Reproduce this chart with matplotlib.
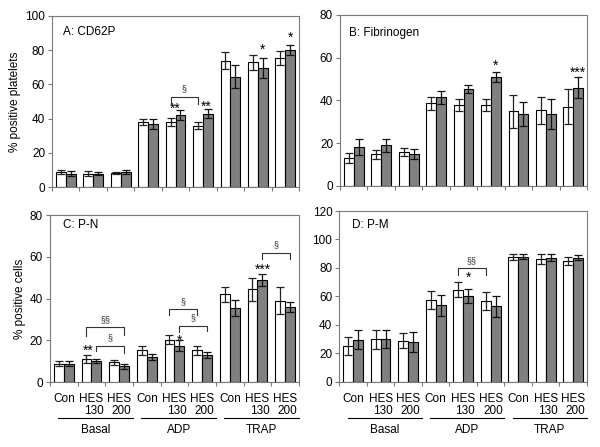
import matplotlib
matplotlib.use("Agg")
import matplotlib.pyplot as plt
import numpy as np

plt.rcParams['font.family'] = ['Liberation Sans', 'DejaVu Sans']

# ---------------- data ----------------
treatments = ["Con", "HES\n130", "HES\n200"] * 3
conditions = ["Basal", "ADP", "TRAP"]

A_white = [8.8, 7.8, 8.3, 38.2, 38.0, 35.8, 73.8, 72.8, 75.5]
A_white_err = [1.0, 1.5, 0.7, 1.8, 2.5, 2.0, 4.8, 4.2, 4.2]
A_gray = [7.8, 8.0, 8.8, 36.8, 42.3, 43.0, 64.5, 69.6, 79.8]
A_gray_err = [1.5, 1.0, 1.0, 3.0, 2.8, 2.5, 6.8, 5.8, 2.9]

B_white = [12.8, 14.8, 15.8, 38.6, 37.7, 37.7, 34.8, 35.3, 37.0]
B_white_err = [2.4, 2.1, 2.0, 3.1, 2.8, 2.8, 7.7, 6.4, 8.1]
B_gray = [18.3, 19.0, 15.0, 41.4, 45.3, 50.9, 33.6, 33.6, 46.0]
B_gray_err = [3.7, 3.1, 2.4, 3.0, 2.0, 2.3, 5.7, 6.9, 5.0]

C_white = [8.9, 11.0, 9.5, 15.3, 20.3, 15.3, 42.0, 44.5, 39.0]
C_white_err = [1.1, 2.0, 1.2, 2.3, 2.2, 2.3, 3.5, 5.5, 6.5]
C_gray = [8.9, 10.2, 7.6, 12.0, 17.6, 13.2, 35.5, 49.0, 36.0]
C_gray_err = [1.1, 1.0, 1.1, 1.4, 2.7, 1.4, 3.8, 2.8, 2.2]

D_white = [25.3, 29.8, 28.8, 57.5, 64.8, 56.8, 87.5, 86.5, 85.0]
D_white_err = [6.5, 6.5, 5.2, 6.5, 5.2, 6.5, 2.0, 3.5, 3.0]
D_gray = [29.6, 30.2, 28.0, 53.6, 60.0, 53.0, 88.0, 87.3, 87.3]
D_gray_err = [6.6, 6.3, 7.2, 7.2, 5.0, 7.2, 1.5, 2.2, 2.0]

# stars: (group index, offset, text, y)
A_stars = [(4, -0.02, "**", 46.0), (5, 0.12, "**", 47.0), (7, 0.18, "*", 80.0), (8, 0.18, "*", 87.0)]
B_stars = [(5, 0.18, "*", 56.0), (8, 0.18, "***", 53.0)]
C_stars = [(1, -0.12, "**", 15.0), (4, 0.18, "*", 20.0), (7, 0.18, "***", 54.0)]
D_stars = [(4, 0.18, "*", 73.0)]

# brackets: (x1, x2, top, left bottom, right bottom, label)
A_brackets = [(3.82, 4.82, 52.8, 48.5, 48.5, "§")]
B_brackets = []
C_brackets = [(0.82, 2.18, 26.3, 22.2, 22.5, "§§"),
              (1.18, 2.18, 17.5, 15.1, 13.9, "§"),
              (3.82, 4.82, 34.9, 32.2, 32.2, "§"),
              (4.18, 5.18, 27.1, 24.2, 24.5, "§"),
              (7.18, 8.18, 62.0, 58.8, 58.8, "§")]
D_brackets = [(3.82, 4.82, 80.0, 75.0, 75.0, "§§")]

panels = [
    dict(rect=[0.0867, 0.581, 0.4117, 0.3839], title="A: CD62P", tpos=(0.046, 0.907),
         ylim=100, ystep=20, ylabel="% positive platelets",
         w=A_white, we=A_white_err, g=A_gray, ge=A_gray_err, stars=A_stars, br=A_brackets, xl=False),
    dict(rect=[0.5667, 0.5846, 0.4117, 0.3819], title="B: Fibrinogen", tpos=(0.038, 0.896),
         ylim=80, ystep=20, ylabel=None,
         w=B_white, we=B_white_err, g=B_gray, ge=B_gray_err, stars=B_stars, br=B_brackets, xl=False),
    dict(rect=[0.0833, 0.1447, 0.415, 0.3743], title="C: P-N", tpos=(0.053, 0.94),
         ylim=80, ystep=20, ylabel="% positive cells",
         w=C_white, we=C_white_err, g=C_gray, ge=C_gray_err, stars=C_stars, br=C_brackets, xl=True),
    dict(rect=[0.5655, 0.146, 0.4128, 0.3819], title="D: P-M", tpos=(0.053, 0.918),
         ylim=120, ystep=20, ylabel=None,
         w=D_white, we=D_white_err, g=D_gray, ge=D_gray_err, stars=D_stars, br=D_brackets, xl=True),
]

fig = plt.figure(figsize=(6.0, 4.47), dpi=100)
fs = 8.5
spine_col = "#7a7a7a"
bw = 0.36
x = np.arange(9)

for p in panels:
    ax = fig.add_axes(p["rect"])
    ax.bar(x - bw / 2, p["w"], bw, color="white", edgecolor="black", linewidth=0.8, zorder=2)
    ax.bar(x + bw / 2, p["g"], bw, color="#808080", edgecolor="black", linewidth=0.8, zorder=2)
    ax.errorbar(x - bw / 2, p["w"], yerr=p["we"], fmt="none", ecolor="#222222",
                elinewidth=0.9, capsize=2.6, capthick=0.9, zorder=3)
    ax.errorbar(x + bw / 2, p["g"], yerr=p["ge"], fmt="none", ecolor="#111111",
                elinewidth=0.9, capsize=2.6, capthick=0.9, zorder=3)
    ax.set_xlim(-0.5, 8.5)
    ax.set_ylim(0, p["ylim"])
    ax.set_yticks(np.arange(0, p["ylim"] + 1, p["ystep"]))
    ax.tick_params(axis="y", labelsize=fs, length=3, width=0.8, color=spine_col, pad=2)
    for s in ax.spines.values():
        s.set_color(spine_col)
        s.set_linewidth(0.8)
    ax.set_xticks(np.arange(-0.5, 9, 1.0))
    ax.set_xticklabels([])
    ax.tick_params(axis="x", which="major", length=3, width=0.8, color=spine_col)
    if p["xl"]:
        ax.set_xticks(x, minor=True)
        ax.set_xticklabels(treatments, minor=True, fontsize=fs, multialignment="right",
                           linespacing=1.0)
        ax.tick_params(axis="x", which="minor", length=0, pad=8)
        tr = ax.get_xaxis_transform()
        for i, c in enumerate(conditions):
            g0 = 3 * i
            ax.plot([g0 - 0.2, g0 + 2.5], [-0.215, -0.215], transform=tr, color="black",
                    linewidth=0.8, clip_on=False)
            ax.text(g0 + 1.15, -0.25, c, transform=tr, ha="center", va="top", fontsize=fs)
    if p["ylabel"]:
        ax.set_ylabel(p["ylabel"], fontsize=fs, labelpad=3)
    ax.text(p["tpos"][0], p["tpos"][1], p["title"], transform=ax.transAxes,
            fontsize=fs, ha="left", va="center")
    for gi, off, t, y in p["stars"]:
        ax.text(gi + off, y, t, ha="center", va="center", fontsize=10, zorder=4)
    for x1, x2, top, lb, rb, lab in p["br"]:
        ax.plot([x1, x1, x2, x2], [lb, top, top, rb], color="#333333", linewidth=0.8, zorder=4)
        ax.text((x1 + x2) / 2, top + (p["ylim"] * 0.045), lab, ha="center", va="center",
                fontsize=6.5, color="#333333", zorder=4)

fig.savefig("out.png", dpi=100, facecolor="white")
